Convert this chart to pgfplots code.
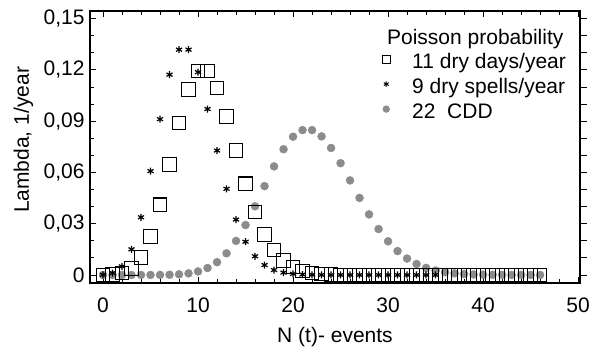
\documentclass[border=0pt]{standalone}
\usepackage{fontspec}
\setmainfont{Liberation Sans}
\usepackage{pgfplots}
\pgfplotsset{compat=1.18}
\definecolor{cddgray}{HTML}{8C8C8C}
\newcommand{\bigfont}{\fontsize{21bp}{25bp}\selectfont}
\begin{document}
\begin{tikzpicture}
\useasboundingbox (-90bp,-68bp) rectangle (500bp,283bp);
\begin{axis}[
  scale only axis, width=490bp, height=272bp,
  xmin=-1.37, xmax=50.2, ymin=-0.0047, ymax=0.1544,
  xtick={0,10,20,30,40,50}, minor x tick num=4,
  ytick={0,0.03,0.06,0.09,0.12,0.15}, minor y tick num=2,
  yticklabels={0,{0,03},{0,06},{0,09},{0,12},{0,15}},
  scaled y ticks=false,
  xtick pos=both, ytick pos=left, tick align=inside,
  major tick length=6bp, minor tick length=4bp,
  every tick/.style={black, line width=0.8pt},
  axis line style={black, line width=1.1pt},
  /pgf/number format/assume math mode=true,
  tick label style={font=\bigfont},
  yticklabel style={xshift=-2bp},
  xticklabel style={anchor=base, yshift=-29bp},
  xlabel={N (t)- events},
  ylabel={Lambda, 1/year},
  label style={font=\bigfont},
  xlabel style={at={(axis description cs:0.5,-0.22)}, anchor=base},
  ylabel style={at={(axis description cs:-0.1245,0.526)}, anchor=base, rotate=0},
  legend style={at={(axis description cs:0.596,0.846)}, anchor=north west,
    draw=none, fill=none, inner sep=0pt, row sep=5bp, column sep=22bp,
    font=\bigfont, nodes={inner sep=0pt, text height=15bp, text depth=5bp}},
  legend cell align=left,
  legend image code/.code={\draw[#1] plot coordinates {(4bp,4bp)};},
]
% lambda = 22 (CDD)
\addplot[forget plot, only marks, mark=*, mark size=4bp, color=cddgray] coordinates {
(0,0) (1,0) (2,0) (3,0) (4,0.000003) (5,0.000012) (6,0.000044) (7,0.000138)
(8,0.00038) (9,0.00093) (10,0.00204) (11,0.00408) (12,0.00749) (13,0.01267)
(14,0.01991) (15,0.02920) (16,0.04015) (17,0.05196) (18,0.06350) (19,0.07353)
(20,0.08088) (21,0.08473) (22,0.08473) (23,0.08105) (24,0.07430) (25,0.06538)
(26,0.05532) (27,0.04508) (28,0.03542) (29,0.02687) (30,0.01970) (31,0.01398)
(32,0.00961) (33,0.00641) (34,0.00415) (35,0.00261) (36,0.00159) (37,0.00095)
(38,0.00055) (39,0.00031) (40,0.00017) (41,0.00009) (42,0.00005) (43,0.00002)
(44,0.00001) (45,0.00001) (46,0)
};
% lambda = 11
\addplot[forget plot, only marks, mark=square, mark size=6.7bp, black, mark options={line width=1.1pt}] coordinates {
(0,0.0000167) (1,0.000184) (2,0.00101) (3,0.003705) (4,0.01019) (5,0.02242)
(6,0.04110) (7,0.06459) (8,0.08881) (9,0.10855) (10,0.1194) (11,0.1194)
(12,0.10945) (13,0.09261) (14,0.07277) (15,0.05336) (16,0.03669) (17,0.02374)
(18,0.01451) (19,0.0084) (20,0.00462) (21,0.00242) (22,0.00121) (23,0.00058)
(24,0.00026) (25,0.00012) (26,0.00005) (27,0.00002) (28,0) (29,0) (30,0)
(31,0) (32,0) (33,0) (34,0) (35,0) (36,0) (37,0) (38,0) (39,0) (40,0)
(41,0) (42,0) (43,0) (44,0) (45,0) (46,0)
};
% lambda = 9
\addplot[forget plot, only marks, mark=asterisk, mark size=3.5bp, black, mark options={line width=1.2pt}] coordinates {
(0,0.000123) (1,0.00111) (2,0.0050) (3,0.0150) (4,0.03375) (5,0.06075)
(6,0.09112) (7,0.11716) (8,0.1318) (9,0.1318) (10,0.11862) (11,0.09705)
(12,0.07279) (13,0.05039) (14,0.03240) (15,0.01944) (16,0.01093) (17,0.00579)
(18,0.00289) (19,0.00137) (20,0.00062) (21,0.00026) (22,0.0001) (23,0.00004)
(24,0) (25,0) (26,0) (27,0) (28,0) (29,0) (30,0) (31,0) (32,0) (33,0)
(34,0) (35,0)
};
\addlegendimage{only marks, mark=square, mark size=4bp, black, mark options={line width=0.9pt}}
\addlegendentry{11 dry days/year}
\addlegendimage{only marks, mark=asterisk, mark size=2.8bp, black, mark options={line width=1pt}}
\addlegendentry{9 dry spells/year}
\addlegendimage{only marks, mark=*, mark size=3.4bp, cddgray}
\addlegendentry{22\ \ CDD}
\node[anchor=base west, font=\bigfont, inner sep=0pt] at (axis description cs:0.606,0.875) {Poisson probability};
\end{axis}
\begin{axis}[
  scale only axis, width=490bp, height=272bp,
  xmin=-1.37, xmax=50.2, ymin=-0.0047, ymax=0.1544,
  axis x line=none, axis y line*=right,
  y axis line style={draw=none},
  ytick={0,0.03,0.06,0.09,0.12,0.15}, minor y tick num=2,
  yticklabels={}, scaled y ticks=false,
  tick align=outside, major tick length=7bp, minor tick length=7bp,
  every tick/.style={black, line width=0.8pt},
]
\addplot[draw=none, forget plot] coordinates {(0,0)};
\end{axis}
\end{tikzpicture}
\end{document}
